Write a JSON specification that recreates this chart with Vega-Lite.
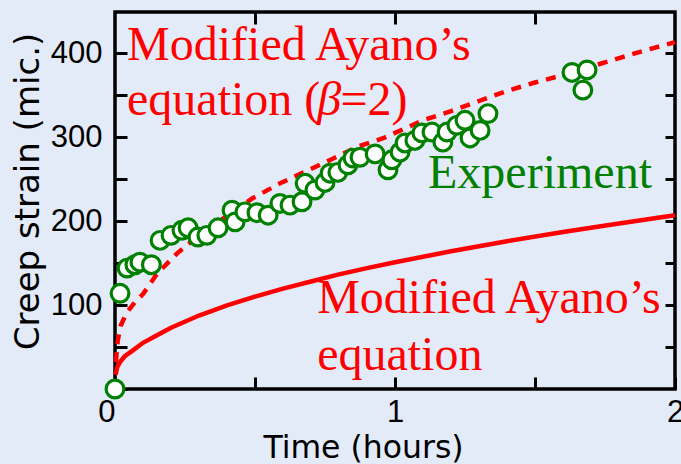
{
  "$schema": "https://vega.github.io/schema/vega-lite/v6.json",
  "width": 560,
  "height": 377,
  "autosize": "none",
  "padding": {"left": 115, "top": 12, "right": 6, "bottom": 75},
  "background": "#e4ebf8",
  "config": {
    "view": {"stroke": "#000000", "strokeWidth": 3.5},
    "axis": {
      "grid": false,
      "domain": false,
      "tickColor": "#000000",
      "tickWidth": 3,
      "labelColor": "#000000",
      "titleColor": "#000000",
      "labelFont": "Liberation Sans",
      "labelFontSize": 31,
      "titleFont": "DejaVu Sans",
      "titleFontWeight": "normal"
    }
  },
  "datasets": {
    "ayano": [
      {"t": 0.002, "v": 17}, {"t": 0.008, "v": 26}, {"t": 0.018, "v": 32},
      {"t": 0.035, "v": 39}, {"t": 0.064, "v": 46}, {"t": 0.1, "v": 55},
      {"t": 0.15, "v": 64}, {"t": 0.2, "v": 73}, {"t": 0.3, "v": 87.5},
      {"t": 0.4, "v": 99.5}, {"t": 0.5, "v": 110}, {"t": 0.6, "v": 119.5},
      {"t": 0.7, "v": 128}, {"t": 0.8, "v": 136.5}, {"t": 0.9, "v": 144},
      {"t": 1.0, "v": 151}, {"t": 1.2, "v": 164}, {"t": 1.4, "v": 176},
      {"t": 1.6, "v": 187}, {"t": 1.8, "v": 197}, {"t": 2.0, "v": 207}
    ],
    "ayano_beta2": [
      {"t": 0.003, "v": 32}, {"t": 0.01, "v": 58}, {"t": 0.02, "v": 75},
      {"t": 0.04, "v": 90}, {"t": 0.07, "v": 103}, {"t": 0.1, "v": 113},
      {"t": 0.15, "v": 137}, {"t": 0.22, "v": 161}, {"t": 0.3, "v": 183},
      {"t": 0.4, "v": 206}, {"t": 0.49, "v": 227}, {"t": 0.59, "v": 245},
      {"t": 0.68, "v": 259}, {"t": 0.77, "v": 273}, {"t": 0.87, "v": 289},
      {"t": 0.96, "v": 299}, {"t": 1.1, "v": 320}, {"t": 1.2, "v": 331},
      {"t": 1.3, "v": 343}, {"t": 1.4, "v": 355}, {"t": 1.5, "v": 365},
      {"t": 1.6, "v": 374}, {"t": 1.7, "v": 384}, {"t": 1.8, "v": 394},
      {"t": 1.9, "v": 404}, {"t": 2.0, "v": 413}
    ],
    "experiment": [
      {"t": 0, "v": 0}, {"t": 0.018, "v": 114}, {"t": 0.043, "v": 144},
      {"t": 0.071, "v": 148}, {"t": 0.089, "v": 151}, {"t": 0.13, "v": 148},
      {"t": 0.161, "v": 177}, {"t": 0.2, "v": 183}, {"t": 0.239, "v": 189},
      {"t": 0.261, "v": 192}, {"t": 0.296, "v": 181}, {"t": 0.328, "v": 183},
      {"t": 0.368, "v": 192}, {"t": 0.418, "v": 213}, {"t": 0.429, "v": 199},
      {"t": 0.464, "v": 211}, {"t": 0.507, "v": 210}, {"t": 0.547, "v": 207},
      {"t": 0.589, "v": 221}, {"t": 0.625, "v": 219}, {"t": 0.668, "v": 223},
      {"t": 0.679, "v": 245}, {"t": 0.714, "v": 237}, {"t": 0.75, "v": 246},
      {"t": 0.768, "v": 257}, {"t": 0.796, "v": 258}, {"t": 0.832, "v": 267},
      {"t": 0.85, "v": 275}, {"t": 0.875, "v": 276}, {"t": 0.929, "v": 280},
      {"t": 0.975, "v": 261}, {"t": 0.989, "v": 273}, {"t": 1.018, "v": 282},
      {"t": 1.036, "v": 293}, {"t": 1.071, "v": 296}, {"t": 1.096, "v": 305},
      {"t": 1.132, "v": 306}, {"t": 1.171, "v": 294}, {"t": 1.186, "v": 306},
      {"t": 1.221, "v": 314}, {"t": 1.25, "v": 320}, {"t": 1.268, "v": 299},
      {"t": 1.304, "v": 308}, {"t": 1.332, "v": 328}, {"t": 1.632, "v": 377},
      {"t": 1.686, "v": 380}, {"t": 1.671, "v": 356}
    ],
    "labels": [
      {"label": "Modified Ayano’s", "series": "model", "t": 0.043, "v": 391.8},
      {"label": "equation (", "series": "model", "t": 0.043, "v": 326.3},
      {"label": "=2)", "series": "model", "t": 0.805, "v": 326.3},
      {"label": "Experiment", "series": "experiment", "t": 1.118, "v": 239.4},
      {"label": "Modified Ayano’s", "series": "model", "t": 0.722, "v": 90.5},
      {"label": "equation", "series": "model", "t": 0.722, "v": 22.6}
    ],
    "labels_italic": [
      {"label": "β", "series": "model", "t": 0.722, "v": 326.3}
    ]
  },
  "layer": [
    {
      "data": {"name": "ayano"},
      "mark": {"type": "line", "color": "#ff0000", "strokeWidth": 4.5},
      "encoding": {
        "x": {
          "field": "t", "type": "quantitative",
          "scale": {"domain": [0, 2], "nice": false, "zero": false},
          "axis": {
            "orient": "bottom",
            "values": [0, 0.5, 1, 1.5, 2],
            "labelExpr": "datum.value % 1 === 0 ? format(datum.value, 'd') : ''",
            "labelAlign": {"condition": {"test": "datum.value === 0", "value": "right"}, "value": "center"},
            "tickSize": -12,
            "labelPadding": 20,
            "title": "Time (hours)",
            "titleFontSize": 31.5,
            "titleX": 248,
            "titleY": 68,
            "titleAlign": "center",
            "titleBaseline": "alphabetic"
          }
        },
        "y": {
          "field": "v", "type": "quantitative",
          "scale": {"domain": [0, 449], "nice": false},
          "axis": {
            "orient": "left",
            "values": [0, 50, 100, 150, 200, 250, 300, 350, 400],
            "labelExpr": "datum.value % 100 === 0 && datum.value > 0 ? format(datum.value, 'd') : ''",
            "tickSize": -12,
            "labelPadding": 25,
            "title": "Creep strain (mic.)",
            "titleFontSize": 34,
            "titleAngle": -90,
            "titleX": -77,
            "titleY": 179,
            "titleAlign": "center",
            "titleBaseline": "alphabetic"
          }
        }
      }
    },
    {
      "data": {"name": "ayano_beta2"},
      "mark": {"type": "line", "color": "#ff0000", "strokeWidth": 4.5, "strokeDash": [10, 8]},
      "encoding": {
        "x": {
          "field": "t", "type": "quantitative",
          "axis": {"orient": "top", "values": [0.5, 1, 1.5], "labels": false, "tickSize": -12, "title": null}
        },
        "y": {
          "field": "v", "type": "quantitative",
          "axis": {"orient": "right", "values": [50, 100, 150, 200, 250, 300, 350, 400], "labels": false, "tickSize": -10, "title": null}
        }
      }
    },
    {
      "data": {"name": "experiment"},
      "mark": {"type": "point", "shape": "circle", "filled": true, "fill": "#ffffff", "stroke": "#008000", "strokeWidth": 3.2, "size": 314, "opacity": 1},
      "encoding": {
        "x": {"field": "t", "type": "quantitative", "axis": null},
        "y": {"field": "v", "type": "quantitative", "axis": null}
      }
    },
    {
      "data": {"name": "labels"},
      "mark": {"type": "text", "font": "Liberation Serif", "fontSize": 48, "align": "left", "baseline": "alphabetic"},
      "encoding": {
        "x": {"field": "t", "type": "quantitative", "axis": null},
        "y": {"field": "v", "type": "quantitative", "axis": null},
        "text": {"field": "label"},
        "color": {"field": "series", "type": "nominal", "scale": {"domain": ["model", "experiment"], "range": ["#ff0000", "#008000"]}, "legend": null}
      }
    },
    {
      "data": {"name": "labels_italic"},
      "mark": {"type": "text", "font": "Liberation Serif", "fontSize": 48, "fontStyle": "italic", "align": "left", "baseline": "alphabetic"},
      "encoding": {
        "x": {"field": "t", "type": "quantitative", "axis": null},
        "y": {"field": "v", "type": "quantitative", "axis": null},
        "text": {"field": "label"},
        "color": {"field": "series", "type": "nominal", "scale": {"domain": ["model", "experiment"], "range": ["#ff0000", "#008000"]}, "legend": null}
      }
    }
  ],
  "resolve": {"axis": {"x": "independent", "y": "independent"}}
}
